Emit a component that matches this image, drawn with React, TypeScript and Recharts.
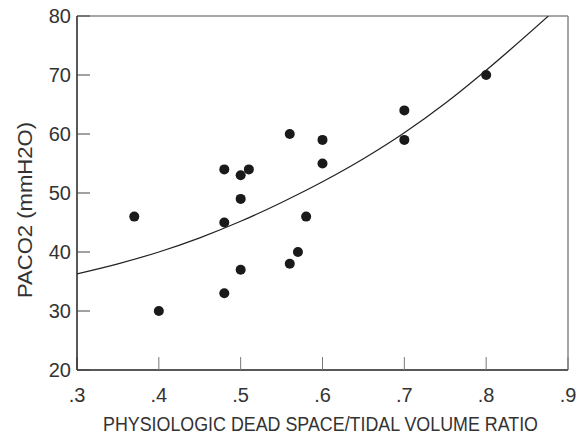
import React from 'react';
import { ComposedChart, Scatter, Line, XAxis, YAxis, ReferenceLine, Label } from 'recharts';

const ratioValues = [0.37, 0.4, 0.48, 0.48, 0.48, 0.5, 0.5, 0.5, 0.51, 0.56, 0.56, 0.57, 0.58, 0.6, 0.6, 0.7, 0.7, 0.8];
const pacoValues = [46, 30, 54, 45, 33, 53, 49, 37, 54, 60, 38, 40, 46, 59, 55, 64, 59, 70];

const curveX = [0.3, 0.35, 0.4, 0.45, 0.5, 0.55, 0.6, 0.65, 0.7, 0.75, 0.8, 0.876];
const curveY = [36.3, 38.0, 40.0, 42.4, 45.2, 48.4, 51.9, 55.8, 60.2, 65.2, 70.8, 80];

const xTicks = [0.3, 0.4, 0.5, 0.6, 0.7, 0.8, 0.9];
const yTicks = [20, 30, 40, 50, 60, 70, 80];

const points = ratioValues.map((x, i) => ({ x, y: pacoValues[i] }));
const curve = curveX.map((x, i) => ({ x, y: curveY[i] }));

const FONT = '"Liberation Sans", Arial, sans-serif';
const TXT = '#333';

const Dot = (props: any) => <circle cx={props.cx} cy={props.cy} r={5} fill="#1a1a1a" />;

const XLabel = (props: any) => {
  const vb = props.viewBox || { x: 0, y: 0, width: 0, height: 0 };
  const cx = vb.x + vb.width / 2 - 2;
  const cy = vb.y + vb.height - 5;
  return (
    <text x={cx} y={cy} textAnchor="middle" fontSize={20} fill={TXT} fontFamily={FONT}
      textLength={435} lengthAdjust="spacingAndGlyphs">
      PHYSIOLOGIC DEAD SPACE/TIDAL VOLUME RATIO
    </text>
  );
};

const YLabel = (props: any) => {
  const vb = props.viewBox || { x: 0, y: 0, width: 0, height: 0 };
  const cx = vb.x + 31.5;
  const cy = vb.y + vb.height / 2 + 17;
  return (
    <text x={cx} y={cy} transform={`rotate(-90 ${cx} ${cy})`} textAnchor="middle" fontSize={20}
      fill={TXT} fontFamily={FONT} textLength={176} lengthAdjust="spacingAndGlyphs">
      PACO2 (mmH2O)
    </text>
  );
};

const fmt = (v: number) => v.toFixed(1).replace(/^0/, '');

export default function App() {
  return (
    <div style={{ position: 'absolute', left: 0, top: 0, width: 579, height: 436 }}>
      <ComposedChart width={579} height={436} margin={{ top: 16, right: 11, bottom: 0, left: 0 }}>
        <XAxis
          type="number"
          dataKey="x"
          domain={[0.3, 0.9]}
          ticks={xTicks}
          tickFormatter={fmt}
          allowDataOverflow
          height={66}
          tickSize={-13}
          tickMargin={31}
          axisLine={{ stroke: '#222', strokeWidth: 1.5 }}
          tickLine={{ stroke: '#777', strokeWidth: 1 }}
          tick={{ fontSize: 20, fill: TXT, fontFamily: FONT }}
          interval={0}
        >
          <Label content={<XLabel />} />
        </XAxis>
        <YAxis
          type="number"
          dataKey="y"
          domain={[20, 80]}
          ticks={yTicks}
          allowDataOverflow
          width={77}
          tickSize={-13}
          tickMargin={19}
          axisLine={{ stroke: '#222', strokeWidth: 1.5 }}
          tickLine={{ stroke: '#444', strokeWidth: 1 }}
          tick={{ fontSize: 20, fill: TXT, fontFamily: FONT }}
          interval={0}
        >
          <Label content={<YLabel />} />
        </YAxis>
        <ReferenceLine y={80} stroke="#888" strokeWidth={1.5} />
        <ReferenceLine x={0.9} stroke="#888" strokeWidth={1.5} />
        <Line data={curve} dataKey="y" type="monotone" stroke="#222" strokeWidth={1.2} dot={false}
          activeDot={false} isAnimationActive={false} />
        <Scatter data={points} dataKey="y" shape={<Dot />} isAnimationActive={false} />
      </ComposedChart>
    </div>
  );
}
